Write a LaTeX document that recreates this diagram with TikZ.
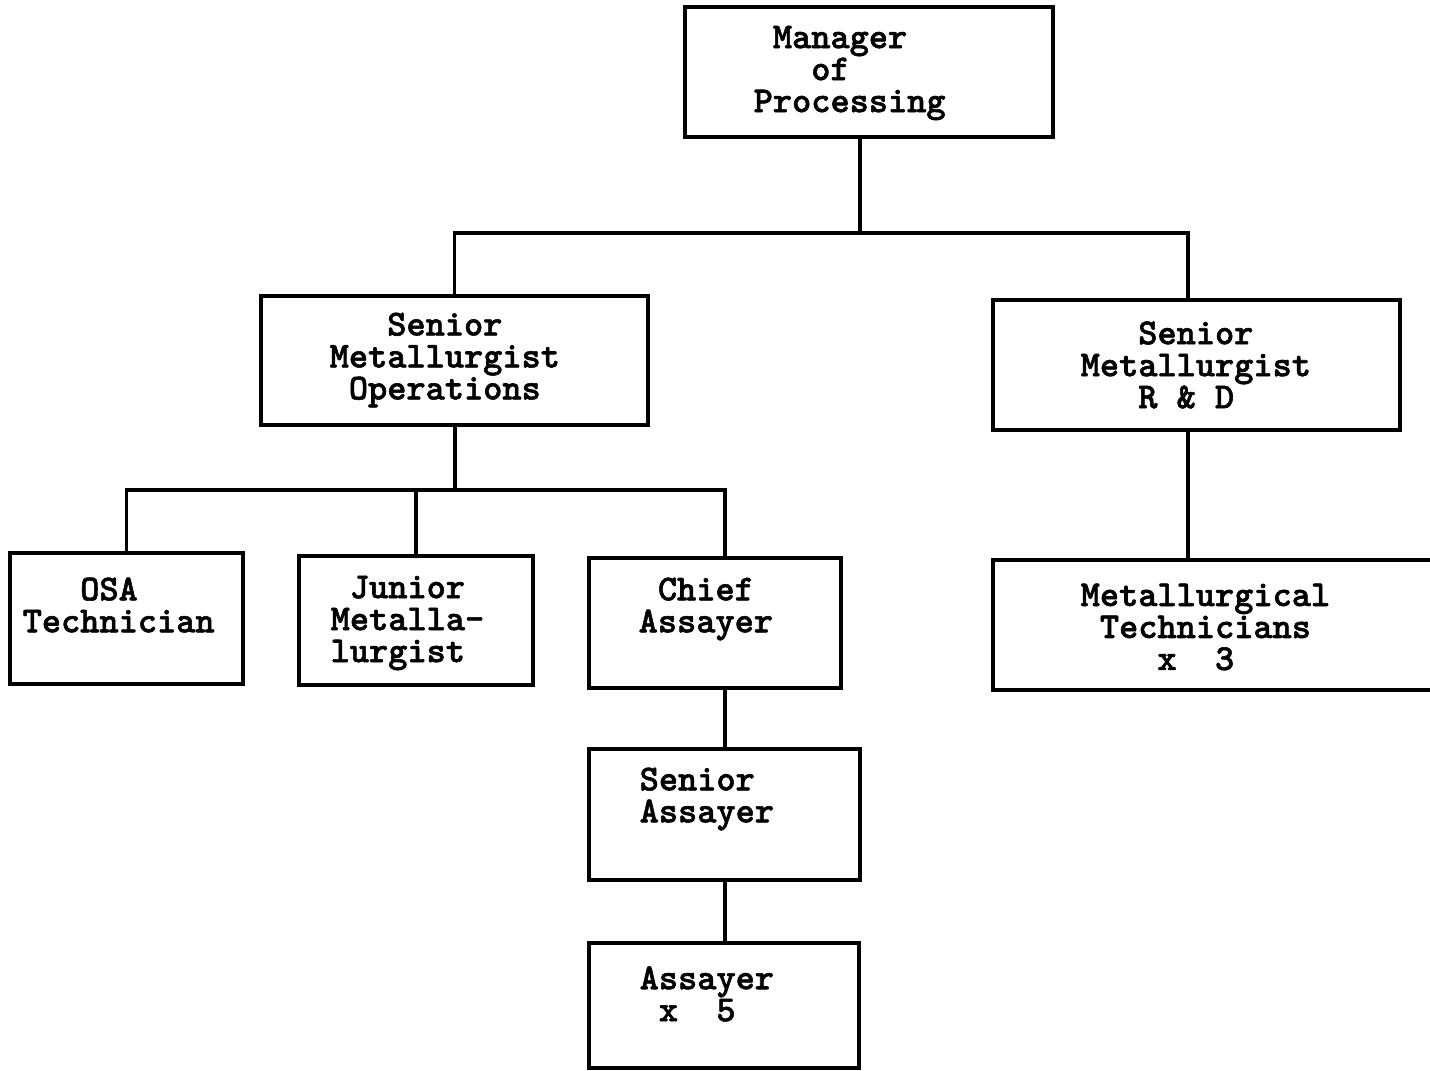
\documentclass[tikz,border=0pt]{standalone}
\usepackage{fontspec}
\usepackage{tikz}
\newfontfamily\boxfont[FakeBold=1.5]{lmmonolt10-bold.otf}

\begin{document}
\begin{tikzpicture}[
    box/.style={draw, line width=1.1pt, inner sep=0pt},
    link/.style={line width=1.1pt},
    lbl/.style={font=\fontsize{10.4pt}{9.1pt}\selectfont\boxfont\bfseries, align=left, anchor=west, inner sep=0pt}
  ]
  \useasboundingbox (0,0) rectangle (14.3,-10.7);

  \node[box, minimum width=3.68cm, minimum height=1.30cm] (mgr) at (8.69,-0.72) {};
  \node[box, minimum width=3.87cm, minimum height=1.29cm] (ops) at (4.545,-3.605) {};
  \node[box, minimum width=4.07cm, minimum height=1.30cm] (rnd) at (11.965,-3.65) {};
  \node[box, minimum width=2.33cm, minimum height=1.31cm] (osa) at (1.265,-6.185) {};
  \node[box, minimum width=2.34cm, minimum height=1.29cm] (jun) at (4.16,-6.205) {};
  \node[box, minimum width=2.52cm, minimum height=1.30cm] (chief) at (7.15,-6.23) {};
  \node[box, minimum width=4.60cm, minimum height=1.30cm] (met) at (12.23,-6.25) {};
  \node[box, minimum width=2.71cm, minimum height=1.31cm] (sas) at (7.245,-8.145) {};
  \node[box, minimum width=2.70cm, minimum height=1.25cm] (asy) at (7.24,-10.055) {};

  \node[lbl] (mgrtxt) at (7.53,-0.73) {~Manager\\~~~of\\Processing};
  \node[lbl] (opstxt) at (3.29,-3.60) {~~~Senior\\Metallurgist\\~Operations};
  \node[lbl] (rndtxt) at (10.80,-3.65) {~~~Senior\\Metallurgist\\~~~R~\&~D};
  \node[lbl] (osatxt) at (0.22,-6.05) {~~~OSA\\Technician};
  \node[lbl] (juntxt) at (3.30,-6.23) {~Junior\\Metalla-\\lurgist};
  \node[lbl] (chieftxt) at (6.38,-6.09) {~Chief\\Assayer};
  \node[lbl] (mettxt) at (10.80,-6.27) {Metallurgical\\~Technicians\\~~~~x~~3};
  \node[lbl] (sastxt) at (6.39,-7.99) {Senior\\Assayer};
  \node[lbl] (asytxt) at (6.39,-9.94) {Assayer\\~x~~5};

  \coordinate (j1) at (8.60,-2.33);
  \coordinate (j1r) at (11.88,-2.33);
  \coordinate (j2) at (4.55,-4.90);
  \coordinate (j2c) at (7.25,-4.90);

  \draw[link] (mgr.south -| j1) -- (j1);
  \draw[link] (ops.north) |- (j1r) -- (rnd.north -| j1r);
  \draw[link] (ops.south -| j2) -- (j2);
  \draw[link] (osa.north) |- (j2c) -- (chief.north -| j2c);
  \draw[link] (jun.north) -- (jun.north |- j2c);
  \draw[link] (chief.south -| j2c) -- (sas.north -| j2c);
  \draw[link] (sas.south -| j2c) -- (asy.north -| j2c);
  \draw[link] (rnd.south -| j1r) -- (met.north -| j1r);
\end{tikzpicture}
\end{document}
